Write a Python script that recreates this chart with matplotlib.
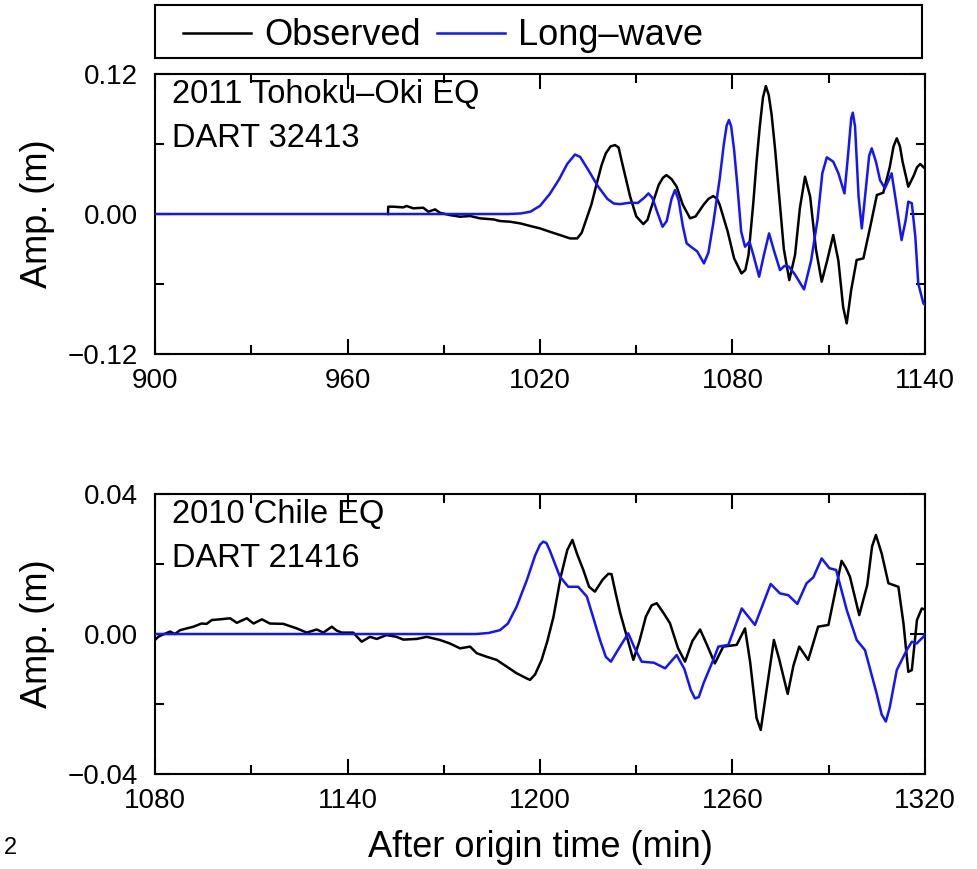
import matplotlib
matplotlib.use("Agg")
import matplotlib.pyplot as plt
from matplotlib.lines import Line2D
from matplotlib.ticker import MultipleLocator

plt.rcParams['font.family'] = ['Liberation Sans', 'DejaVu Sans']

# 2011 Tohoku-Oki EQ, DART 32413
tohoku_obs_t = [972.6, 972.7, 974.3, 977.4, 978.4, 980.5, 983.6, 985.2, 987.3, 988.8,
                991.9, 995.1, 998.2, 1001.3, 1005.5, 1007.5, 1010.7, 1013.8, 1017.9, 1020,
                1023.1, 1026.2, 1029.4, 1031.6, 1033, 1034.0, 1036, 1037.7, 1039.2, 1040.5,
                1042, 1043.4, 1044.5, 1045.5, 1046.8, 1048.1, 1050, 1052.2, 1053.5, 1054.5,
                1057, 1058.3, 1059.4, 1061, 1062.6, 1064.5, 1066.8, 1068.5, 1071, 1072.5,
                1074.0, 1075.2, 1076, 1078.5, 1080.5, 1082.8, 1084.0, 1085, 1086.5, 1087.5,
                1088.5, 1089.5, 1090.4, 1091.3, 1092.2, 1093.3, 1094.3, 1096, 1097.7, 1099.5,
                1101, 1102.6, 1104.2, 1106, 1107.8, 1109.5, 1111.4, 1113, 1114.5, 1115.6,
                1117, 1118.7, 1120.8, 1123, 1125, 1127.0, 1129, 1130.2, 1131.2, 1132.2,
                1133, 1134.8, 1136.5, 1137.5, 1138.5, 1140]
tohoku_obs_a = [0.0, 0.0063, 0.0063, 0.0057, 0.0069, 0.0049, 0.0054, 0.002, 0.004, 0.0011,
                -0.0009, -0.0023, -0.0017, -0.0037, -0.0046, -0.006, -0.0066, -0.008, -0.0109, -0.0123,
                -0.0152, -0.018, -0.0209, -0.0209, -0.016, -0.008, 0.008, 0.0263, 0.042, 0.052,
                0.058, 0.0591, 0.057, 0.045, 0.030, 0.0149, -0.002, -0.0086, -0.005, 0.004,
                0.025, 0.031, 0.0334, 0.030, 0.0234, 0.008, -0.0037, -0.002, 0.008, 0.013,
                0.0154, 0.013, 0.008, -0.015, -0.038, -0.0509, -0.048, -0.035, 0.01, 0.045,
                0.075, 0.100, 0.1097, 0.102, 0.085, 0.055, 0.0234, -0.03, -0.0566, -0.035,
                0.005, 0.032, 0.015, -0.03, -0.058, -0.04, -0.018, -0.04, -0.08, -0.0937,
                -0.065, -0.0394, -0.038, -0.01, 0.0163, 0.0183, 0.04, 0.058, 0.0649, 0.058,
                0.045, 0.0234, 0.033, 0.040, 0.0429, 0.039]

tohoku_lw_t = [900, 1010, 1014, 1017, 1020, 1023, 1026, 1028.5, 1030.9, 1032.5,
               1035, 1038, 1041, 1043, 1045, 1048, 1050.5, 1052.5, 1053.8, 1055,
               1056.5, 1058.2, 1059.5, 1061, 1062.1, 1063.2, 1064.5, 1065.7, 1067.5, 1069,
               1071.1, 1072.5, 1074, 1076, 1077.3, 1078.2, 1078.9, 1079.6, 1080.5, 1081.5,
               1082.7, 1083.9, 1085.3, 1086.5, 1088.3, 1089.8, 1091.4, 1093, 1094.8, 1096.2,
               1097.6, 1099.5, 1102.3, 1104.5, 1106.5, 1108, 1109.4, 1111.4, 1113, 1114.9,
               1116, 1117, 1117.5, 1118.2, 1119.3, 1120.3, 1121.5, 1122.6, 1123.4, 1124.7,
               1126.0, 1127.5, 1129.6, 1131, 1132.7, 1134.0, 1134.8, 1135.9, 1137.0, 1137.9,
               1139.5, 1140]
tohoku_lw_a = [0.0, 0.0, 0.0005, 0.002, 0.007, 0.017, 0.030, 0.043, 0.051, 0.049,
               0.038, 0.024, 0.013, 0.009, 0.0085, 0.0097, 0.0095, 0.014, 0.0177, 0.014,
               0.002, -0.0109, -0.006, 0.013, 0.0206, 0.012, -0.01, -0.0251, -0.029, -0.032,
               -0.0423, -0.033, -0.008, 0.030, 0.060, 0.076, 0.0806, 0.075, 0.055, 0.025,
               -0.015, -0.028, -0.0237, -0.035, -0.0537, -0.035, -0.0166, -0.032, -0.048, -0.0445,
               -0.0451, -0.052, -0.0646, -0.040, -0.005, 0.035, 0.0486, 0.0449, 0.035, 0.0177,
               0.05, 0.082, 0.0869, 0.075, 0.015, -0.0123, 0.02, 0.050, 0.0563, 0.045,
               0.029, 0.022, 0.0349, 0.01, -0.0223, -0.005, 0.0106, 0.0092, -0.02, -0.0594,
               -0.0766, -0.078]

# 2010 Chile EQ, DART 21416
chile_obs_t = [1080.0, 1081.0, 1082.1, 1084.7, 1086.2, 1087.8, 1089.9, 1092.0, 1094.5, 1096.1,
               1097.7, 1100.3, 1103.4, 1105.5, 1108.6, 1110.7, 1113.3, 1115.8, 1120.0, 1124.2,
               1127.3, 1130.4, 1132.5, 1135.1, 1136.6, 1138.2, 1141.8, 1144.4, 1147.0, 1149.1,
               1152.2, 1155.3, 1157.4, 1161.6, 1164.7, 1168.8, 1171.9, 1175.1, 1178.2, 1180.3,
               1183.4, 1186.5, 1189.6, 1192.7, 1195.9, 1196.9, 1198.5, 1200.5, 1202.3, 1204.2,
               1206.5, 1208.5, 1210.1, 1211.5, 1213.5, 1215.3, 1217.1, 1219.5, 1221.3, 1222.3,
               1223.5, 1225, 1226.5, 1229.1, 1231, 1233, 1234.8, 1236.4, 1238.5, 1240.5,
               1243, 1245.2, 1247.5, 1249.9, 1252, 1254.5, 1257.1, 1261.3, 1263.9, 1265.5,
               1267.5, 1268.8, 1270.3, 1272.9, 1274.5, 1277.2, 1279, 1280.8, 1283.6, 1286.7,
               1289.9, 1292, 1294.0, 1295.3, 1296.6, 1299.5, 1302, 1303.5, 1304.7, 1306.5,
               1308.6, 1311.7, 1313.3, 1314.8, 1315.9, 1317.5, 1319.0, 1320]
chile_obs_a = [-0.0017, -0.0008, -0.0003, 0.0007, 0.0, 0.0011, 0.0016, 0.0021, 0.003, 0.0029,
               0.004, 0.0042, 0.0045, 0.0032, 0.0045, 0.003, 0.0042, 0.003, 0.0029, 0.0016,
               0.0004, 0.0013, 0.0004, 0.0021, 0.001, 0.0004, 0.0004, -0.0022, -0.0008, -0.0014,
               -0.0003, -0.0008, -0.0016, -0.0014, -0.0008, -0.0017, -0.0027, -0.0041, -0.0036, -0.0055,
               -0.0065, -0.0074, -0.0093, -0.0112, -0.0127, -0.0131, -0.0115, -0.0074, -0.002, 0.0049,
               0.0165, 0.024, 0.0269, 0.023, 0.0183, 0.0135, 0.0121, 0.0155, 0.0172, 0.0171,
               0.012, 0.006, 0.0011, -0.0074, -0.002, 0.005, 0.0082, 0.0088, 0.006, 0.0031,
               -0.004, -0.0079, -0.002, 0.0013, -0.003, -0.0084, -0.0036, -0.0031, 0.0016, -0.008,
               -0.024, -0.0274, -0.018, -0.0017, -0.007, -0.0171, -0.009, -0.0036, -0.0074, 0.0021,
               0.0026, 0.012, 0.0209, 0.019, 0.0164, 0.0054, 0.014, 0.025, 0.0283, 0.023,
               0.0145, 0.0135, 0.003, -0.0108, -0.0103, 0.004, 0.0073, 0.007]

chile_lw_t = [1080, 1180, 1184, 1187.5, 1190, 1192.7, 1195.9, 1198.5, 1200.0, 1201.0,
              1202, 1203, 1206.2, 1208.8, 1211.9, 1214.6, 1216.5, 1218.7, 1220.5, 1222.1,
              1224, 1227.5, 1229.5, 1231.7, 1235.5, 1239.0, 1242.6, 1245, 1247, 1248.3,
              1249.5, 1251, 1254.0, 1255.6, 1258.7, 1262.9, 1267.0, 1271.9, 1274.8, 1277.4,
              1280.2, 1283.1, 1285.2, 1287.8, 1290.2, 1292.3, 1295.6, 1298.7, 1301.3, 1304.9,
              1306.5, 1307.8, 1309, 1311.2, 1314.3, 1315.9, 1317.4, 1319.5, 1320]
chile_lw_a = [0.0, 0.0, 0.0003, 0.0011, 0.003, 0.0078, 0.0154, 0.0225, 0.0255, 0.0264,
              0.026, 0.024, 0.0164, 0.0135, 0.0135, 0.0107, 0.005, -0.0017, -0.0065, -0.0079,
              -0.005, 0.0002, -0.004, -0.0079, -0.0082, -0.0098, -0.006, -0.010, -0.016, -0.0184,
              -0.018, -0.014, -0.0074, -0.0036, -0.0031, 0.0073, 0.0026, 0.0143, 0.0116, 0.0111,
              0.0086, 0.0145, 0.0162, 0.0216, 0.0188, 0.0183, 0.0069, -0.0017, -0.0046, -0.0169,
              -0.023, -0.025, -0.021, -0.0103, -0.0046, -0.0022, -0.0027, -0.0008, 0.0]

top_xticks = [900, 960, 1020, 1080, 1140]
top_yticks = [-0.12, 0.0, 0.12]
top_ylabels = ['\u22120.12', '0.00', '0.12']
bot_xticks = [1080, 1140, 1200, 1260, 1320]
bot_yticks = [-0.04, 0.0, 0.04]
bot_ylabels = ['\u22120.04', '0.00', '0.04']

fig = plt.figure(figsize=(9.78, 8.69), dpi=100)
ax1 = fig.add_axes([0.1585, 0.5926, 0.7873, 0.3222])
ax2 = fig.add_axes([0.1585, 0.1093, 0.7873, 0.3222])

panels = [
    (ax1, tohoku_obs_t, tohoku_obs_a, tohoku_lw_t, tohoku_lw_a, (900, 1140), top_xticks,
     top_yticks, top_ylabels, 0.06, ['2011 Tohoku\u2013Oki EQ', 'DART 32413']),
    (ax2, chile_obs_t, chile_obs_a, chile_lw_t, chile_lw_a, (1080, 1320), bot_xticks,
     bot_yticks, bot_ylabels, 0.02, ['2010 Chile EQ', 'DART 21416']),
]

for ax, ot, oa, lt, la, xl, xt, yt, ylab, ymin, txt in panels:
    ax.plot(ot, oa, color='black', lw=1.8, zorder=3)
    ax.plot(lt, la, color='#1414ff', lw=1.8, zorder=4)
    ax.set_xlim(*xl)
    ax.set_ylim(yt[0], yt[-1])
    ax.set_xticks(xt)
    ax.set_xticklabels([str(v) for v in xt])
    ax.set_yticks(yt)
    ax.set_yticklabels(ylab)
    ax.xaxis.set_minor_locator(MultipleLocator(30))
    ax.yaxis.set_minor_locator(MultipleLocator(ymin))
    ax.tick_params(which='both', direction='in', top=True, right=True,
                   labelsize=20, width=1.5, pad=12)
    ax.tick_params(which='major', length=11)
    ax.tick_params(which='minor', length=6.5)
    ax.tick_params(axis='x', pad=10)
    for s in ax.spines.values():
        s.set_linewidth(1.5)
    ax.set_ylabel('Amp. (m)', fontsize=26)
    ax.yaxis.set_label_coords(-0.13, 0.5)
    ax.text(0.022, 0.896, txt[0], transform=ax.transAxes, fontsize=23.5, va='baseline')
    ax.text(0.022, 0.739, txt[1], transform=ax.transAxes, fontsize=23.5, va='baseline')

ax2.set_xlabel('After origin time (min)', fontsize=26)
ax2.xaxis.set_label_coords(0.5, -0.2)

# legend box on top
axl = fig.add_axes([0.1585, 0.9333, 0.7842, 0.0609])
axl.set_xticks([])
axl.set_yticks([])
for s in axl.spines.values():
    s.set_linewidth(1.5)
handles = [Line2D([], [], color='black', lw=1.8), Line2D([], [], color='#1414ff', lw=1.8)]
axl.legend(handles, ['Observed', 'Long\u2013wave'], ncol=2, loc='center left',
           bbox_to_anchor=(0.0, 0.42), frameon=False, fontsize=26,
           handlelength=1.9, handletextpad=0.35, columnspacing=0.45,
           borderaxespad=0.77, borderpad=0.0)

fig.text(0.004, 0.024, '2', fontsize=17, va='center')

fig.savefig('out.png', dpi=100)
